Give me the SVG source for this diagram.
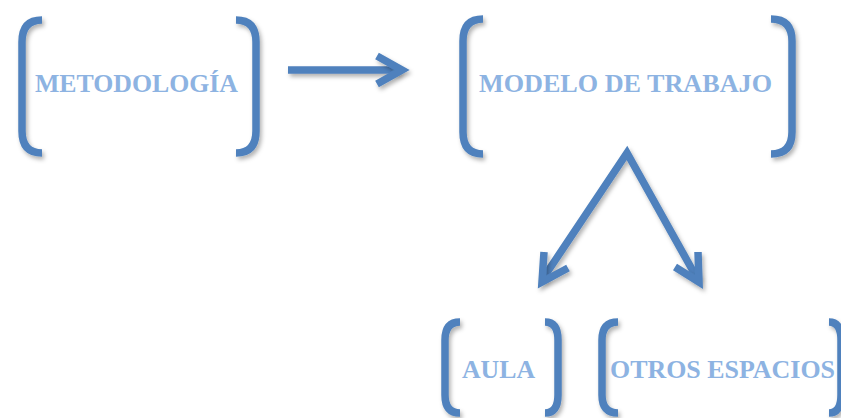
<svg xmlns="http://www.w3.org/2000/svg" width="841" height="418" viewBox="0 0 841 418">
<defs>
<filter id="sh" filterUnits="userSpaceOnUse" x="0" y="0" width="841" height="418">
<feDropShadow dx="2" dy="3" stdDeviation="2" flood-color="#000" flood-opacity="0.3"/>
</filter>
<style>
.br{fill:none;stroke:#4f81bd;stroke-width:7.5;stroke-linecap:butt;filter:url(#sh)}
.ln{fill:none;stroke:#4f81bd;stroke-width:7.5;stroke-linejoin:miter;stroke-linecap:butt;filter:url(#sh)}
.tx{font-family:"Liberation Serif","Times New Roman",serif;font-weight:bold;font-size:26px;fill:#8db3e2}
</style>
</defs>
<rect width="841" height="418" fill="#ffffff"/>
<g id="metodologia">
<path class="br" d="M42,20 Q22,20 22,42 L22,131 Q22,153 42,153"/>
<path class="br" d="M236,20 Q256,20 256,42 L256,131 Q256,153 236,153"/>
<text class="tx" x="35" y="92" textLength="203" lengthAdjust="spacingAndGlyphs">METODOLOGÍA</text>
</g>
<g id="modelo">
<path class="br" d="M483,19 Q463,19 463,41 L463,132 Q463,154 483,154"/>
<path class="br" d="M771,19 Q792,19 792,41 L792,132 Q792,154 771,154"/>
<text class="tx" x="479" y="92" textLength="293" lengthAdjust="spacingAndGlyphs">MODELO DE TRABAJO</text>
</g>
<g id="aula">
<path class="br" d="M460,322 Q445,322 445,340 L445,395 Q445,413 460,413"/>
<path class="br" d="M545,322 Q558,322 558,340 L558,395 Q558,413 545,413"/>
<text class="tx" x="462" y="378" textLength="73" lengthAdjust="spacingAndGlyphs">AULA</text>
</g>
<g id="otros">
<path class="br" d="M618,322 Q602,322 602,340 L602,395 Q602,413 618,413"/>
<path class="br" d="M829,322 Q841,322 841,340 L841,395 Q841,413 829,413"/>
<text class="tx" x="610" y="378" textLength="225" lengthAdjust="spacingAndGlyphs">OTROS ESPACIOS</text>
</g>
<g id="connectors">
<path class="ln" d="M288,70 L400,70"/>
<polyline class="ln" points="377,56 402,70 377,84"/>
<polyline class="ln" points="542,280 627,153 698,280"/>
<polyline class="ln" points="544,252 542,282 568,268"/>
<polyline class="ln" points="698,252 699,282 675,267"/>
</g>
</svg>
